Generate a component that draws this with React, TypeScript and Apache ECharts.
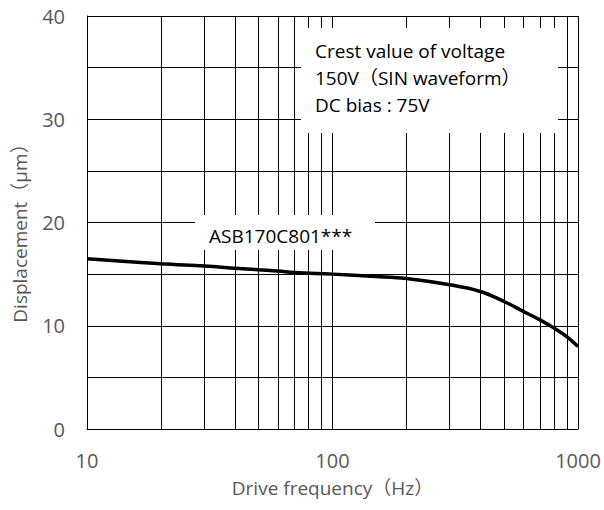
import React, { useEffect, useRef } from "react";
import * as echarts from "echarts";

const freqs = [10, 20, 30, 40, 50, 60, 70, 100, 150, 200, 300, 400, 500, 600, 700, 800, 900, 1000];
const displacement = [16.5, 16.0, 15.78, 15.58, 15.42, 15.3, 15.16, 15.0, 14.78, 14.58, 13.97, 13.32, 12.35, 11.38, 10.57, 9.77, 8.95, 7.98];
const minorFreqs = [20, 30, 40, 50, 60, 70, 80, 90, 200, 300, 400, 500, 600, 700, 800, 900];
const seriesName = "ASB170C801***";
const noteLines = ["Crest value of voltage", "150V（SIN waveform）", "DC bias : 75V"];

const FONT = "'Open Sans', 'Noto Sans CJK JP', sans-serif";

export default function App() {
  const ref = useRef<HTMLDivElement>(null);
  useEffect(() => {
    if (!ref.current) return;
    document.body.style.margin = "0";
    const chart = echarts.init(ref.current, null, { renderer: "svg" });
    chart.setOption({
      animation: false,
      backgroundColor: "#ffffff",
      grid: { left: 87, right: 26, top: 16, bottom: 81 },
      xAxis: {
        type: "log",
        logBase: 10,
        min: 10,
        max: 1000,
        name: "Drive frequency（Hz）",
        nameLocation: "middle",
        nameGap: 49,
        nameTextStyle: { color: "#595959", fontSize: 19, fontFamily: FONT },
        axisLine: { show: true, lineStyle: { color: "#000", width: 1 } },
        axisTick: { show: false },
        axisLabel: {
          color: "#595959",
          fontSize: 20,
          fontFamily: FONT,
          margin: 21,
          formatter: (v: number) => String(Math.round(v)),
        },
        splitLine: { show: true, lineStyle: { color: "#000", width: 1 } },
      },
      yAxis: {
        type: "value",
        min: 0,
        max: 40,
        interval: 5,
        name: "Displacement（μm）",
        nameLocation: "middle",
        nameGap: 58,
        nameTextStyle: { color: "#595959", fontSize: 19, fontFamily: FONT, padding: [0, 12, 0, 0] },
        axisLine: { show: true, lineStyle: { color: "#000", width: 1 } },
        axisTick: { show: false },
        axisLabel: {
          color: "#595959",
          fontSize: 20,
          fontFamily: FONT,
          margin: 22,
          formatter: (v: number) => (v % 10 === 0 ? String(v) : ""),
        },
        splitLine: { show: true, lineStyle: { color: "#000", width: 1 } },
      },
      series: [
        {
          name: seriesName,
          type: "line",
          data: freqs.map((f, i) => [f, displacement[i]]),
          smooth: 0.4,
          showSymbol: false,
          lineStyle: { color: "#000", width: 3.5 },
          z: 5,
          markLine: {
            silent: true,
            symbol: ["none", "none"],
            label: { show: false },
            lineStyle: { color: "#000", width: 1, type: "solid" },
            data: minorFreqs.map((f) => ({ xAxis: f })),
            z: 1,
          },
        },
      ],
      graphic: [
        { type: "rect", shape: { x: 301, y: 28, width: 257, height: 105 }, style: { fill: "#fff" }, z: 50 },
        {
          type: "text",
          x: 315,
          y: 37,
          z: 51,
          style: {
            text: noteLines.join("\n"),
            fill: "#000",
            font: `19px ${FONT}`,
            lineHeight: 27,
          },
        },
        { type: "rect", shape: { x: 195, y: 215, width: 180, height: 35 }, style: { fill: "#fff" }, z: 50 },
        {
          type: "text",
          x: 209,
          y: 236,
          z: 51,
          style: { text: seriesName, fill: "#000", font: `19px ${FONT}`, verticalAlign: "middle" },
        },
      ],
    });
    return () => chart.dispose();
  }, []);
  return <div ref={ref} style={{ width: 604, height: 510 }} />;
}
